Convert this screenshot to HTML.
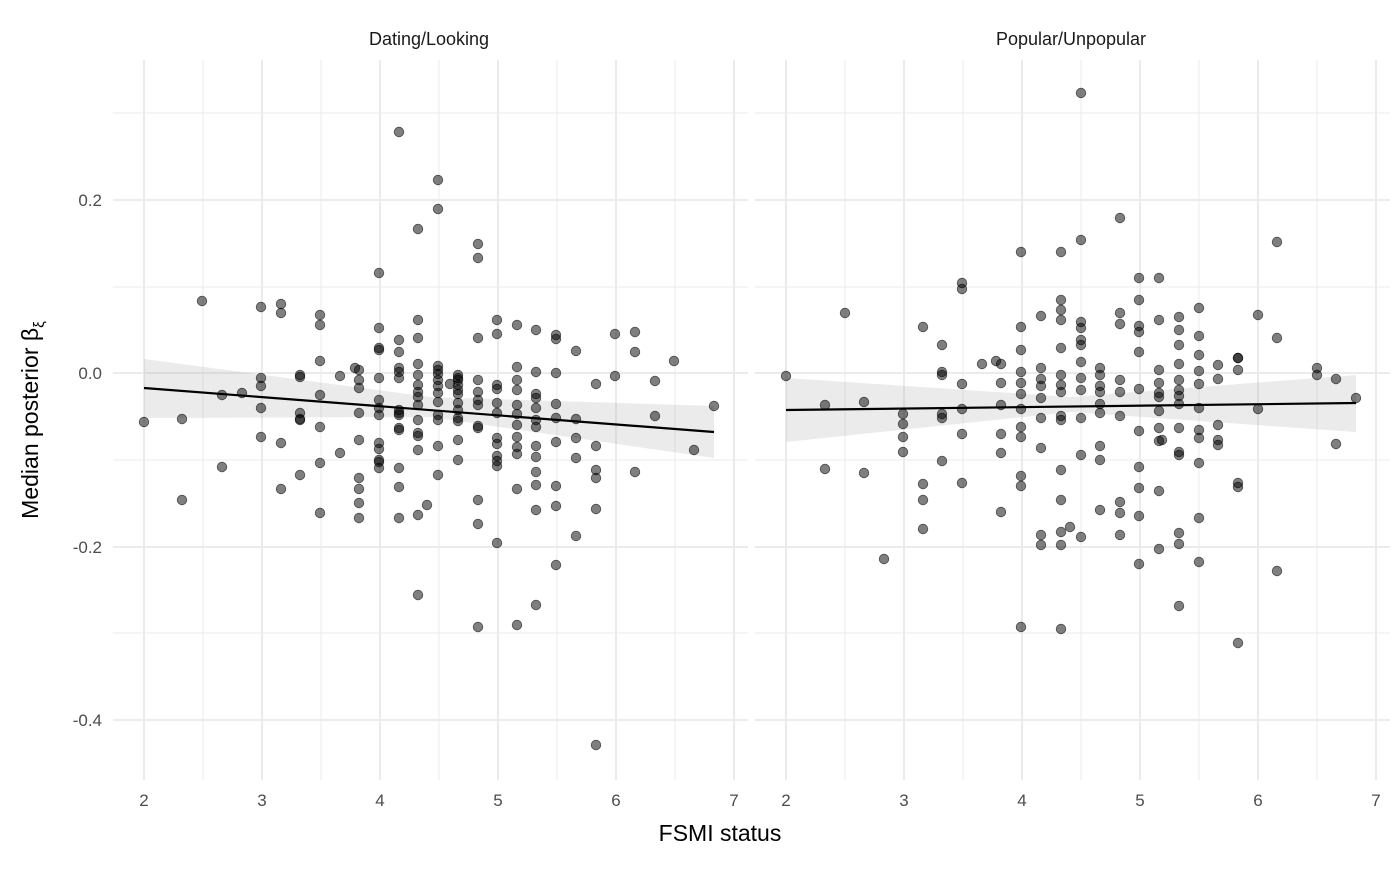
<!DOCTYPE html>
<html><head><meta charset="utf-8"><style>
body{margin:0;background:#fff}
svg{font-family:"Liberation Sans",sans-serif}
</style></head><body>
<svg id="s" width="1400" height="865" xmlns="http://www.w3.org/2000/svg">
<g id="grid" stroke="#ebebeb"></g>
<g fill="#4d4d4d" font-size="17">
<text x="102" y="206" text-anchor="end">0.2</text>
<text x="102" y="379" text-anchor="end">0.0</text>
<text x="102" y="553" text-anchor="end">-0.2</text>
<text x="102" y="726" text-anchor="end">-0.4</text>
</g>
<g id="xt" fill="#4d4d4d" font-size="17" text-anchor="middle"></g>
<text x="429" y="45" font-size="18" text-anchor="middle" fill="#1a1a1a">Dating/Looking</text>
<text x="1071" y="45" font-size="18" text-anchor="middle" fill="#1a1a1a">Popular/Unpopular</text>
<text x="720" y="841" font-size="23" text-anchor="middle">FSMI status</text>
<text transform="translate(38,420) rotate(-90)" font-size="23" text-anchor="middle">Median posterior β<tspan font-size="15" dy="6">ξ</tspan></text>
<path d="M144,359 L430,397 L714,406 L714,458 L430,417 L144,418 Z" fill="#999" opacity="0.2"/>
<path d="M786,378 L1071,397 L1356,375 L1356,432 L1071,412 L786,442 Z" fill="#999" opacity="0.2"/>
<g id="pts" fill="#000" fill-opacity="0.5" stroke="#000" stroke-opacity="0.6"></g>
<line x1="144" y1="388" x2="714" y2="432" stroke="#000" stroke-width="2.2"/>
<line x1="786" y1="410" x2="1356" y2="403" stroke="#000" stroke-width="2.2"/>
</svg>
<script>
var ns="http://www.w3.org/2000/svg",g=document.getElementById('grid'),xt=document.getElementById('xt'),p=document.getElementById('pts');
function el(par,t,a,txt){var e=document.createElementNS(ns,t);for(var k in a)e.setAttribute(k,a[k]);if(txt)e.textContent=txt;par.appendChild(e);}
[[113,748,144],[755,1390,786]].forEach(function(P){
 [113,287,460,633].forEach(function(y){el(g,'line',{x1:P[0],x2:P[1],y1:y,y2:y,'stroke-width':1});});
 [200,373,547,720].forEach(function(y){el(g,'line',{x1:P[0],x2:P[1],y1:y,y2:y,'stroke-width':2});});
 for(var i=0;i<=10;i++){var x=P[2]+i*59;el(g,'line',{x1:x,x2:x,y1:60,y2:780,'stroke-width':i%2?1:2});}
 for(var i=2;i<=7;i++)el(xt,'text',{x:P[2]+(i-2)*118,y:806},String(i));
});
var L=[[144,422],[182,419],[182,500],[202,301],[222,395],[222,467],[242,393],[261,307],[261,378],[261,386],[261,408],[261,437],[281,304],[281,313],[281,443],[281,489],[300,375],[300,377],[300,413],[300,419],[300,420],[300,475],[320,315],[320,325],[320,361],[320,395],[320,427],[320,463],[320,513],[340,376],[340,453],[355,368],[359,370],[359,380],[359,388],[359,413],[359,440],[359,478],[359,489],[359,503],[359,518],[379,273],[379,328],[379,348],[379,350],[379,378],[379,400],[379,408],[379,415],[379,443],[379,449],[379,460],[379,462],[379,468],[399,132],[399,340],[399,352],[399,368],[399,372],[399,378],[399,410],[399,413],[399,415],[399,428],[399,430],[399,468],[399,487],[399,518],[418,229],[418,320],[418,338],[418,364],[418,375],[418,385],[418,392],[418,397],[418,405],[418,420],[418,433],[418,436],[418,450],[418,515],[418,595],[427,505],[438,180],[438,209],[438,366],[438,370],[438,374],[438,380],[438,386],[438,393],[438,402],[438,415],[438,420],[438,446],[438,475],[450,384],[458,375],[458,378],[458,380],[458,385],[458,390],[458,394],[458,403],[458,410],[458,418],[458,421],[458,440],[458,460],[478,244],[478,258],[478,338],[478,380],[478,392],[478,400],[478,405],[478,426],[478,428],[478,500],[478,524],[478,627],[497,320],[497,334],[497,385],[497,389],[497,403],[497,413],[497,438],[497,444],[497,456],[497,461],[497,466],[497,543],[517,325],[517,367],[517,380],[517,390],[517,405],[517,414],[517,425],[517,437],[517,447],[517,454],[517,489],[517,625],[536,330],[536,372],[536,394],[536,398],[536,408],[536,420],[536,427],[536,446],[536,457],[536,472],[536,485],[536,510],[536,605],[556,335],[556,339],[556,373],[556,404],[556,418],[556,442],[556,486],[556,506],[556,565],[576,351],[576,419],[576,438],[576,458],[576,536],[596,384],[596,446],[596,470],[596,478],[596,509],[596,745],[615,334],[615,376],[635,332],[635,352],[635,472],[655,381],[655,416],[674,361],[694,450],[714,406]];
var R=[[786,376],[825,405],[825,469],[845,313],[864,402],[864,473],[884,559],[903,414],[903,424],[903,437],[903,452],[923,327],[923,484],[923,500],[923,529],[942,345],[942,372],[942,375],[942,414],[942,418],[942,461],[962,283],[962,289],[962,384],[962,409],[962,434],[962,483],[982,364],[996,361],[1001,364],[1001,383],[1001,405],[1001,434],[1001,453],[1001,512],[1021,252],[1021,327],[1021,350],[1021,372],[1021,383],[1021,394],[1021,409],[1021,427],[1021,437],[1021,476],[1021,486],[1021,627],[1041,316],[1041,368],[1041,379],[1041,386],[1041,398],[1041,418],[1041,448],[1041,535],[1041,545],[1061,252],[1061,300],[1061,310],[1061,320],[1061,348],[1061,375],[1061,385],[1061,392],[1061,416],[1061,420],[1061,470],[1061,500],[1061,532],[1061,545],[1061,629],[1070,527],[1081,93],[1081,240],[1081,322],[1081,328],[1081,340],[1081,345],[1081,362],[1081,378],[1081,390],[1081,418],[1081,455],[1081,537],[1100,368],[1100,375],[1100,386],[1100,392],[1100,404],[1100,413],[1100,446],[1100,460],[1100,510],[1120,218],[1120,313],[1120,324],[1120,380],[1120,392],[1120,416],[1120,502],[1120,513],[1120,535],[1139,278],[1139,300],[1139,326],[1139,332],[1139,352],[1139,389],[1139,431],[1139,467],[1139,488],[1139,516],[1139,564],[1159,278],[1159,320],[1159,370],[1159,383],[1159,393],[1159,397],[1159,411],[1159,428],[1159,441],[1159,491],[1159,549],[1162,440],[1179,317],[1179,330],[1179,345],[1179,364],[1179,380],[1179,390],[1179,396],[1179,404],[1179,428],[1179,452],[1179,455],[1179,533],[1179,544],[1179,606],[1199,308],[1199,336],[1199,355],[1199,371],[1199,384],[1199,408],[1199,430],[1199,438],[1199,463],[1199,518],[1199,562],[1218,365],[1218,379],[1218,425],[1218,440],[1218,445],[1238,358],[1238,358],[1238,370],[1238,483],[1238,487],[1238,643],[1258,315],[1258,409],[1277,242],[1277,338],[1277,571],[1317,368],[1317,375],[1336,379],[1336,444],[1356,398]];
L.concat(R).forEach(function(c){el(p,'circle',{cx:c[0],cy:c[1],r:4.8,'stroke-width':0.8});});
</script>
</body></html>
